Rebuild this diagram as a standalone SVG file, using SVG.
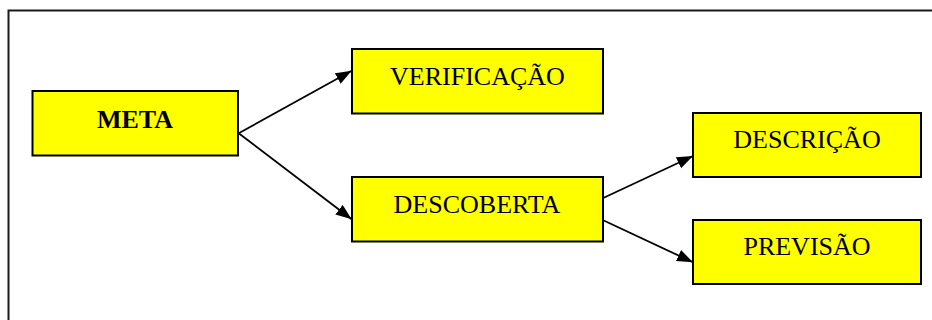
<svg xmlns="http://www.w3.org/2000/svg" width="932" height="320" viewBox="0 0 932 320">
  <style>
    .box { fill: #ffff00; stroke: #000; stroke-width: 2; }
    .lbl { font-family: "Liberation Serif", "Times New Roman", serif; font-size: 26px; fill: #000; text-anchor: middle; }
    .bold { font-weight: bold; }
    .edge { stroke: #000; stroke-width: 1.8; fill: none; marker-end: url(#arrow); }
    .frame { stroke: #1a1a1a; stroke-width: 2; fill: none; }
  </style>
  <defs>
    <marker id="arrow" markerUnits="userSpaceOnUse" markerWidth="18" markerHeight="14" refX="16" refY="6" orient="auto">
      <path d="M0,0 L16,6 L0,12 z" fill="#000"/>
    </marker>
  </defs>
  <rect width="932" height="320" fill="#fff"/>
  <path class="frame" d="M8.5,320 L8.5,10.5 L932,10.5"/>
  <g id="connectors">
    <line class="edge" x1="238.7" y1="133.3" x2="351.7" y2="70.7"/>
    <line class="edge" x1="238.7" y1="133.3" x2="351.7" y2="219.3"/>
    <line class="edge" x1="602.7" y1="198.3" x2="693" y2="156"/>
    <line class="edge" x1="602.7" y1="220" x2="693" y2="262.3"/>
  </g>
  <g id="meta">
    <rect class="box" x="32.5" y="91" width="205.5" height="64.5"/>
    <text class="lbl bold" x="135" y="128">META</text>
  </g>
  <g id="verificacao">
    <rect class="box" x="352" y="49" width="251" height="64.5"/>
    <text class="lbl" x="477.5" y="85">VERIFICAÇÃO</text>
  </g>
  <g id="descoberta">
    <rect class="box" x="352" y="177" width="251" height="64.5"/>
    <text class="lbl" x="477" y="213">DESCOBERTA</text>
  </g>
  <g id="descricao">
    <rect class="box" x="693" y="113" width="228" height="64"/>
    <text class="lbl" x="807" y="148">DESCRIÇÃO</text>
  </g>
  <g id="previsao">
    <rect class="box" x="693" y="220" width="228" height="64"/>
    <text class="lbl" x="807" y="255">PREVISÃO</text>
  </g>
</svg>
